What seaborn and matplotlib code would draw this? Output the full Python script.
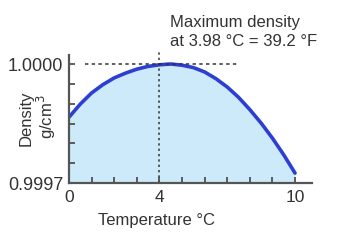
import numpy as np
import pandas as pd
import matplotlib
matplotlib.use("Agg")
import matplotlib.pyplot as plt
import seaborn as sns

temperature = [0, 0.5, 1, 1.5, 2, 2.5, 3, 3.5, 4, 4.5, 5, 5.5, 6, 6.5, 7, 7.5, 8, 8.5, 9, 9.5, 10]
density = [0.999866, 0.999899, 0.999927, 0.999948, 0.999965, 0.999977, 0.999987,
           0.999994, 0.999998, 1.000000, 0.999997, 0.999991, 0.999980, 0.999963,
           0.999942, 0.999916, 0.999885, 0.999851, 0.999813, 0.999771, 0.999725]
x_ticks = [0, 1, 2, 3, 4, 5, 6, 7, 8, 9, 10]
x_tick_labels = ["0", "", "", "", "4", "", "", "", "", "", "10"]
y_ticks = [0.9997, 0.99975, 0.9998, 0.99985, 0.9999, 0.99995, 1.0]
y_tick_labels = ["0.9997", "", "", "", "", "", "1.0000"]
max_temp = 4
max_density = 1.0
annotation = "Maximum density\nat 3.98 \u00b0C = 39.2 \u00b0F"

sns.set_theme(style="white")
plt.rcParams["font.family"] = ["Liberation Sans", "DejaVu Sans"]

df = pd.DataFrame({"temp": temperature, "density": density})

fig = plt.figure(figsize=(3.38, 2.41), dpi=100)
ax = fig.add_axes([69/338, 1-183/241, (312-69)/338, (183-55)/241])
ax.set_axisbelow(False)

ax.fill_between(df["temp"], 0.9997, df["density"], color="#cdeafb", lw=0, zorder=0.5)
sns.lineplot(data=df, x="temp", y="density", ax=ax, color="#2c3fd2", lw=2.6)

ax.set_xlim(0, 10.75)
ax.set_ylim(0.9997, 1.0000227)

ax.plot([0.7, 7.5], [max_density, max_density], ls=(0, (2.2, 2.2)), color="#333333", lw=1.1)
ax.plot([max_temp, max_temp], [0.9997, 1.0000227 + 0.0000095], ls=(0, (1.5, 2.0)),
        color="#333333", lw=1.1, clip_on=False)

ax.set_xticks(x_ticks)
ax.set_xticklabels(x_tick_labels)
ax.set_yticks(y_ticks)
ax.set_yticklabels(y_tick_labels)
ax.tick_params(axis="both", direction="in", length=4.5, width=1.2, color="#444444",
               labelcolor="#333333", bottom=True, left=True)
ax.tick_params(axis="x", pad=5, labelsize=12.5)
ax.tick_params(axis="y", pad=4, labelsize=13)

for s in ["top", "right"]:
    ax.spines[s].set_visible(False)
for s in ["left", "bottom"]:
    ax.spines[s].set_color("#555555")
    ax.spines[s].set_linewidth(1.6)
    ax.spines[s].set_zorder(3)

ax.set_xlabel("")
ax.set_ylabel("")
fig.text(157/338, 1-221/241, "Temperature \u00b0C", ha="center", va="center",
         fontsize=12, color="#333333")
fig.text(26/338, 1-118/241, "Density", rotation=90, ha="center", va="center",
         fontsize=12, color="#333333")
fig.text(46/338, 1-117/241, "g/cm$^3$", rotation=90, ha="center", va="center",
         fontsize=12, color="#333333")
fig.text(170/338, 1-15/241, annotation, ha="left", va="top", fontsize=12,
         color="#333333", linespacing=1.3)

fig.savefig("out.png", dpi=100)
